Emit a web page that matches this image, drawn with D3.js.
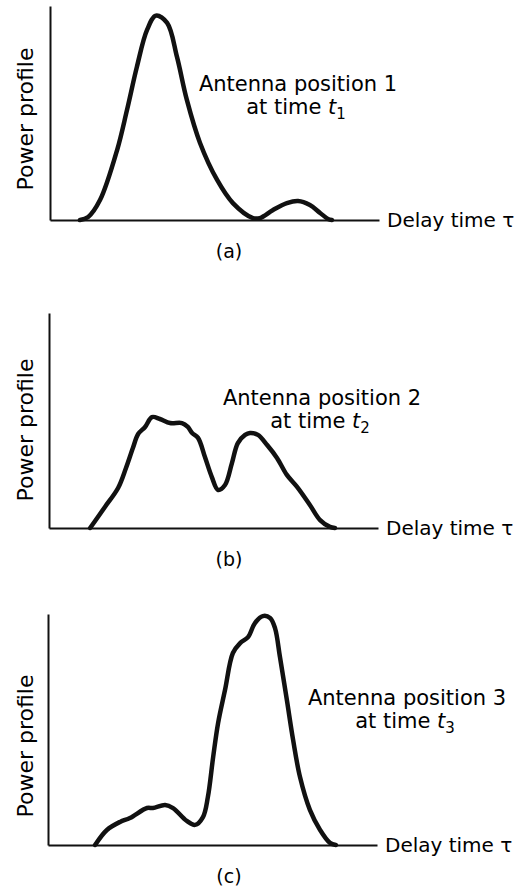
<!DOCTYPE html>
<html>
<head>
<meta charset="utf-8">
<script src="https://cdn.jsdelivr.net/npm/d3@7"></script>
<style>
  body { margin: 0; background: #fff; }
  text { font-family: "DejaVu Sans", sans-serif; fill: #000; }
</style>
</head>
<body>
<div id="chart"></div>
<script>
// delay (0-100 along the axis) and relative power (0-100 up the axis)
var delayA = [9.1, 11.6, 15.2, 20.4, 23.4, 26.4, 29.5, 32.2, 35.6, 38.6, 41.6, 45.6, 50.8, 55.6, 61.7, 63.8, 67.8, 72.0, 75.4, 79.0, 82.1, 84.5, 85.7];
var powerA = [0, 1.4, 9.3, 32.7, 51.4, 71.5, 88.8, 95.5, 92.1, 76.2, 56.1, 36.0, 18.7, 7.9, 0.9, 0.9, 4.7, 7.9, 8.9, 7.0, 3.3, 0.5, 0];

var delayB = [12.5, 17.0, 21.0, 23.4, 25.5, 27.1, 29.2, 31.3, 33.7, 36.8, 40.4, 42.2, 43.5, 45.3, 47.4, 49.5, 51.4, 53.5, 55.6, 57.4, 59.6, 61.1, 63.5, 66.3, 69.3, 72.3, 75.4, 79.3, 82.4, 85.4, 86.9];
var powerB = [0, 9.8, 18.6, 27.9, 37.2, 43.7, 47.0, 51.6, 50.7, 48.8, 48.8, 47.0, 44.2, 41.9, 33.0, 23.7, 17.7, 20.0, 30.2, 39.5, 43.3, 44.2, 43.3, 38.6, 32.6, 24.7, 19.1, 10.7, 3.7, 0.5, 0];

var delayC = [14.3, 17.9, 21.9, 24.9, 30.1, 31.9, 35.6, 38.0, 42.2, 44.7, 47.1, 48.6, 50.2, 51.7, 53.8, 56.2, 58.4, 60.8, 62.9, 65.3, 67.5, 69.0, 70.5, 72.6, 74.5, 76.6, 79.6, 82.7, 85.7, 87.5];
var powerC = [0, 6.5, 10.0, 11.7, 16.0, 16.0, 17.3, 16.0, 10.4, 8.7, 12.1, 20.8, 38.1, 52.8, 67.1, 83.1, 87.4, 90.0, 96.1, 99.1, 98.3, 93.9, 81.4, 62.8, 45.5, 29.4, 15.2, 6.5, 0.9, 0];

var captions = ["(a)", "(b)", "(c)"];
var positionLabels = ["Antenna position 1", "Antenna position 2", "Antenna position 3"];
var timeSubs = ["1", "2", "3"];
var yLabel = "Power profile";
var xLabel = "Delay time \u03c4";

var svgWidth = 518;
var svgHeight = 890;

var svg = d3.select("#chart")
  .append("svg")
  .attr("width", svgWidth)
  .attr("height", svgHeight);

// layout of the three stacked panels
var panels = [
  {delay: delayA, power: powerA, left: 50, right: 379, top: 6, bottom: 220, noteX: 298, noteY: 91, ylabY: 119},
  {delay: delayB, power: powerB, left: 49, right: 378, top: 313, bottom: 528, noteX: 322, noteY: 405, ylabY: 430},
  {delay: delayC, power: powerC, left: 48, right: 377, top: 614, bottom: 845, noteX: 407, noteY: 705, ylabY: 746}
];

panels.forEach(function (p, i) {

  var xScale = d3.scaleLinear().domain([0, 100]).range([p.left, p.right]);
  var yScale = d3.scaleLinear().domain([0, 100]).range([p.bottom, p.top]);

  var g = svg.append("g");

  var bottomAxis = d3.axisBottom(xScale).ticks(0).tickSizeOuter(0);
  var leftAxis = d3.axisLeft(yScale).ticks(0).tickSizeOuter(0);

  g.append("g")
    .attr("transform", `translate(0, ${p.bottom})`)
    .call(bottomAxis)
    .select(".domain")
    .attr("stroke", "#111")
    .attr("stroke-width", 2);

  g.append("g")
    .attr("transform", `translate(${p.left}, 0)`)
    .call(leftAxis)
    .select(".domain")
    .attr("stroke", "#111")
    .attr("stroke-width", 2);

  var pts = p.delay.map(function (d, j) { return [d, p.power[j]]; });

  var line = d3.line()
    .x(d => xScale(d[0]))
    .y(d => yScale(d[1]))
    .curve(d3.curveCatmullRom.alpha(0.5));

  g.append("path")
    .datum(pts)
    .attr("d", line)
    .attr("fill", "none")
    .attr("stroke", "#111")
    .attr("stroke-width", 4.5)
    .attr("stroke-linejoin", "round")
    .attr("stroke-linecap", "round");

  // axis labels
  g.append("text")
    .attr("transform", `translate(33, ${p.ylabY}) rotate(-90)`)
    .attr("text-anchor", "middle")
    .attr("font-size", 22)
    .text(yLabel);

  g.append("text")
    .attr("x", p.right + 8)
    .attr("y", p.bottom + 7)
    .attr("font-size", 20)
    .text(xLabel);

  // annotation
  g.append("text")
    .attr("x", p.noteX)
    .attr("y", p.noteY)
    .attr("text-anchor", "middle")
    .attr("font-size", 21)
    .text(positionLabels[i]);

  var t2 = g.append("text")
    .attr("x", p.noteX - 2)
    .attr("y", p.noteY + 23)
    .attr("text-anchor", "middle")
    .attr("font-size", 21);
  t2.append("tspan").text("at time ");
  t2.append("tspan").attr("font-style", "italic").text("t");
  t2.append("tspan").attr("font-size", 15).attr("dy", 5).text(timeSubs[i]);

  g.append("text")
    .attr("x", 229)
    .attr("y", p.bottom + 38)
    .attr("text-anchor", "middle")
    .attr("font-size", 19)
    .text(captions[i]);
});
</script>
</body>
</html>
